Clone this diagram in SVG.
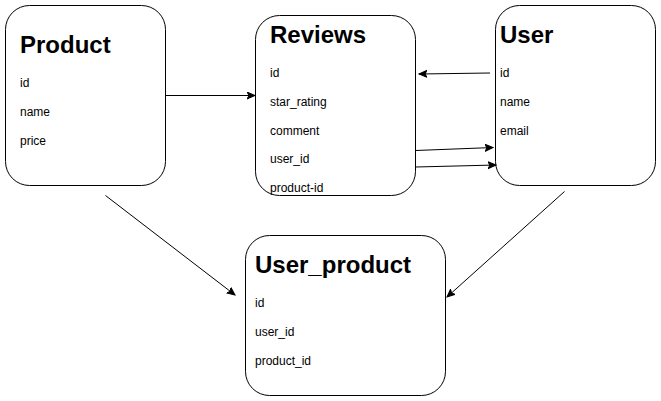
<svg xmlns="http://www.w3.org/2000/svg" width="661" height="401" viewBox="0 0 661 401">
<style>
.box{fill:#fff;stroke:#000;stroke-width:1}
.t{font-family:"Liberation Sans",Arial,sans-serif;font-weight:bold;font-size:24px;fill:#000}
.f{font-family:"Liberation Sans",Arial,sans-serif;font-size:12px;fill:#000}
.c{fill:none;stroke:#000;stroke-width:1;marker-end:url(#ah)}
</style>
<defs>
<marker id="ah" markerWidth="10" markerHeight="10" refX="8" refY="4" orient="auto" markerUnits="userSpaceOnUse">
<path d="M0,0.5 L8,4 L0,7.5 L2,4 Z" fill="#000" stroke="#000" stroke-width="1"/>
</marker>
</defs>
<rect width="661" height="401" fill="#fff"/>
<g id="product">
<rect class="box" x="5.5" y="5.5" width="160" height="180" rx="24" ry="24"/>
<text class="t" x="20" y="53">Product</text>
<text class="f" x="20" y="87">id</text>
<text class="f" x="20" y="116">name</text>
<text class="f" x="20" y="145">price</text>
</g>
<g id="reviews">
<rect class="box" x="255.5" y="15.5" width="160" height="180" rx="24" ry="24"/>
<text class="t" x="270" y="43">Reviews</text>
<text class="f" x="270" y="77">id</text>
<text class="f" x="270" y="106">star_rating</text>
<text class="f" x="270" y="135">comment</text>
<text class="f" x="270" y="163">user_id</text>
<text class="f" x="270" y="192">product-id</text>
</g>
<g id="user">
<rect class="box" x="495.5" y="5.5" width="160" height="180" rx="24" ry="24"/>
<text class="t" x="500" y="43">User</text>
<text class="f" x="500" y="77">id</text>
<text class="f" x="500" y="106">name</text>
<text class="f" x="500" y="135">email</text>
</g>
<g id="user_product">
<rect class="box" x="245.5" y="235.5" width="200" height="160" rx="24" ry="24"/>
<text class="t" x="255" y="273">User_product</text>
<text class="f" x="255" y="307">id</text>
<text class="f" x="255" y="336">user_id</text>
<text class="f" x="255" y="365">product_id</text>
</g>
<g id="connectors">
<path class="c" d="M165.5,95.5 L255,95.5"/>
<path class="c" d="M490,73 L419,74"/>
<path class="c" d="M415.5,150.5 L493,147.5"/>
<path class="c" d="M415.5,167 L496,165"/>
<path class="c" d="M105.5,195.5 L235,295"/>
<path class="c" d="M564.5,191.5 L447,297"/>
</g>
</svg>
